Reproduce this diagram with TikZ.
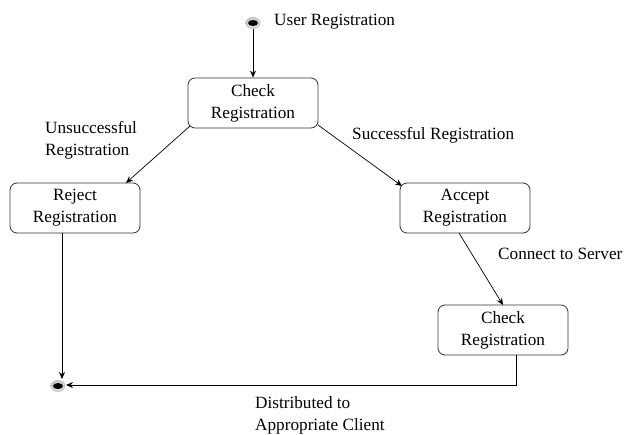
\documentclass[tikz,border=0pt]{standalone}
\usepackage{fontspec}
\setmainfont{Liberation Serif}
\usetikzlibrary{arrows.meta,shapes.geometric}
\begin{document}
\begin{tikzpicture}[x=1pt,y=-1pt,
  state/.style={draw=black!80,rounded corners=7pt,minimum width=130pt,minimum height=50pt,align=center,font=\fontsize{17.2}{22}\selectfont,line width=0.8pt},
  lbl/.style={font=\fontsize{17.2}{22}\selectfont,align=left,inner sep=0pt},
  conn/.style={-{Stealth[length=7pt,width=6pt]},line width=0.7pt},
  pseudo/.style={ellipse,minimum width=15pt,minimum height=12pt,inner sep=0pt,inner color=white,outer color=black!25,draw=none}]
\useasboundingbox (0,0) rectangle (628,434);
\node[pseudo] (start) at (253,23) {};
\fill[black] (start.center) ellipse (5pt and 3pt);
\node[pseudo] (end) at (58,386) {};
\fill[black] (end.center) ellipse (5pt and 3pt);
\node[lbl,anchor=west] (ul) at (274,22) {User Registration};
\node[state] (c1) at (253,103) {Check\\Registration};
\node[state] (rej) at (75,208) {Reject\\Registration};
\node[state] (acc) at (465,208) {Accept\\Registration};
\node[state] (c2) at (503,330) {Check\\Registration};
\coordinate (c1l) at (190,126);
\coordinate (c1r) at (318,125);
\coordinate (rejt) at (126,183);
\coordinate (acct) at (402,186);
\coordinate (accb) at (459,233);
\coordinate (c2t) at (503,305);
\coordinate (rejb) at (62,233);
\coordinate (endt) at (62,379);
\coordinate (c2b) at (516,355);
\coordinate (corner) at (516,385);
\coordinate (endr) at (66,385);
\draw[conn] (start) -- (c1);
\draw[conn] (c1l) -- (rejt);
\draw[conn] (c1r) -- (acct);
\draw[conn] (accb) -- (c2t);
\draw[conn] (rejb) -- (endt);
\draw[conn] (c2b) -- (corner) -- (endr);
\node[lbl,anchor=north west] (l1) at (45,121) {Unsuccessful\\Registration};
\node[lbl,anchor=west] (l2) at (352,135) {Successful Registration};
\node[lbl,anchor=west] (l3) at (498,254) {Connect to Server};
\node[lbl,anchor=north west] (l4) at (255,396) {Distributed to\\Appropriate Client};
\end{tikzpicture}
\end{document}
